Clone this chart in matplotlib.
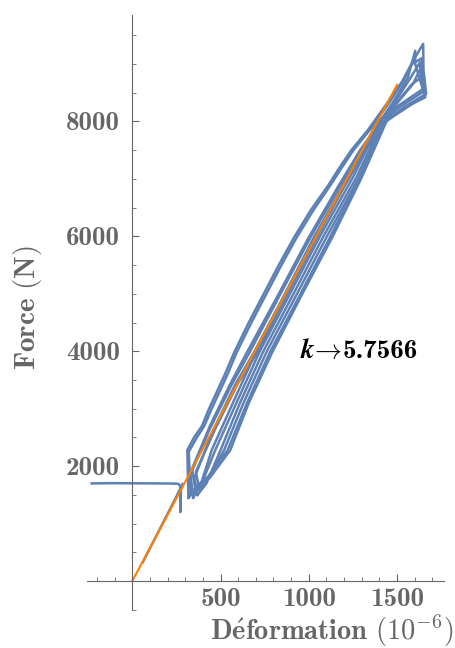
import matplotlib
matplotlib.use("Agg")
import matplotlib.pyplot as plt
from matplotlib.ticker import MultipleLocator

plt.rcParams['mathtext.fontset'] = 'cm'

# données (déformation en 1e-6, force en N)
preload_x = [-230, -120, 0, 120, 220, 262, 272, 272, 276]
preload_y = [1700, 1704, 1702, 1700, 1698, 1692, 1650, 1200, 1600]

ramp_x = [60, 120, 180, 240, 285]
ramp_y = [330, 690, 1050, 1410, 1690]

loops_x = [
    [318, 312, 350, 395, 435, 480, 525, 578, 660, 745, 830, 917, 1010, 1110, 1175, 1240, 1335, 1440,
     1530, 1590, 1648, 1650, 1665, 1540, 1440, 1300, 1133, 960, 793, 660, 555, 440, 380, 318],
    [330, 320, 362, 408, 450, 495, 540, 592, 675, 760, 845, 932, 1025, 1122, 1188, 1252, 1345, 1450,
     1535, 1585, 1640, 1642, 1660, 1530, 1425, 1290, 1120, 950, 780, 650, 540, 430, 375, 330],
    [360, 338, 440, 550, 650, 830, 1000, 1170, 1290, 1370, 1470, 1560, 1603, 1603, 1650,
     1520, 1400, 1250, 1060, 890, 720, 590, 470, 400, 360],
    [345, 330, 432, 560, 665, 840, 1010, 1180, 1300, 1380, 1480, 1575, 1630, 1632, 1645,
     1510, 1385, 1230, 1030, 865, 700, 570, 450, 390, 345],
    [370, 352, 455, 580, 690, 865, 1030, 1195, 1310, 1390, 1490, 1585, 1652, 1655,
     1535, 1410, 1270, 1080, 910, 740, 610, 500, 420, 370],
    [380, 360, 470, 600, 710, 880, 1045, 1205, 1320, 1400, 1495, 1590, 1638, 1640, 1662,
     1545, 1420, 1285, 1100, 930, 760, 630, 520, 430, 380],
]
loops_y = [
    [1450, 2280, 2500, 2700, 3000, 3300, 3600, 3983, 4500, 5000, 5500, 5983, 6450, 6886, 7200, 7496,
     7850, 8300, 8700, 9050, 9350, 8900, 8480, 8250, 8000, 7026, 5983, 4980, 3983, 3100, 2278, 1800,
     1650, 1450],
    [1520, 2250, 2480, 2700, 3000, 3300, 3600, 3983, 4500, 5000, 5500, 5983, 6450, 6886, 7200, 7496,
     7850, 8300, 8700, 9000, 9100, 8850, 8420, 8220, 7980, 7026, 5983, 4980, 3983, 3100, 2278, 1820,
     1680, 1520],
    [1550, 1950, 2700, 3400, 3983, 5000, 5983, 6886, 7496, 7850, 8300, 8750, 9230, 9000, 8520,
     8260, 7960, 7026, 5983, 4980, 3983, 3100, 2278, 1750, 1550],
    [1450, 1850, 2600, 3400, 3983, 5000, 5983, 6886, 7496, 7850, 8300, 8750, 9030, 8900, 8560,
     8280, 7980, 7026, 5983, 4980, 3983, 3100, 2278, 1700, 1450],
    [1500, 1800, 2600, 3400, 3983, 5000, 5983, 6886, 7496, 7850, 8300, 8650, 8800, 8450,
     8200, 7950, 7026, 5983, 4980, 3983, 3100, 2278, 1700, 1500],
    [1600, 1900, 2650, 3450, 3983, 5000, 5983, 6886, 7496, 7850, 8300, 8650, 8950, 8700, 8470,
     8230, 7990, 7026, 5983, 4980, 3983, 3100, 2278, 1780, 1600],
]

fit_x = [0, 1500]
fit_y = [0, 8635]
k_value = "5.7566"

xtick_vals = [500, 1000, 1500]
ytick_vals = [2000, 4000, 6000, 8000]

blue = '#5e81b5'
orange = '#ff7f00'
gray = '#666666'

fig = plt.figure(figsize=(4.56, 6.48), dpi=100)
ax = fig.add_axes([0.191, 0.0586, 0.783, 0.919])

ax.plot(preload_x, preload_y, color=blue, lw=1.8, solid_joinstyle='round')
ax.plot(ramp_x, ramp_y, color=blue, lw=1.8)
for lx, ly in zip(loops_x, loops_y):
    ax.plot(lx, ly, color=blue, lw=1.8, solid_joinstyle='round')
ax.plot(fit_x, fit_y, color=orange, lw=1.5)

ax.set_xlim(-256, 1767)
ax.set_ylim(-504, 9861)

for s in ['top', 'right']:
    ax.spines[s].set_visible(False)
ax.spines['left'].set_position(('data', 0))
ax.spines['bottom'].set_position(('data', 0))
for s in ['left', 'bottom']:
    ax.spines[s].set_color(gray)
    ax.spines[s].set_linewidth(0.8)

ax.set_xticks(xtick_vals)
ax.set_xticklabels([str(v) for v in xtick_vals], fontfamily='cmb10')
ax.set_yticks(ytick_vals)
ax.set_yticklabels([str(v) for v in ytick_vals], fontfamily='cmb10')
ax.xaxis.set_minor_locator(MultipleLocator(100))
ax.yaxis.set_minor_locator(MultipleLocator(500))
ax.tick_params(which='both', direction='in', color=gray, labelcolor=gray, labelsize=19.5)
ax.tick_params(which='major', length=5, width=0.8)
ax.tick_params(which='minor', length=3, width=0.6)
ax.tick_params(axis='y', pad=9)
ax.tick_params(axis='x', pad=5)

# étiquette k -> valeur
ax.text(950, 3878, r"$\boldsymbol{k}\!\rightarrow$", fontsize=19.5, va='baseline', ha='left',
        color='black')
ax.text(1190, 3878, k_value, fontfamily='cmb10', fontsize=19.5, va='baseline', ha='left',
        color='black')

fig.text(0.061, 0.525, r"$\mathbf{Force\ (N)}$", rotation=90, color=gray,
         fontsize=21, ha='center', va='center')
fig.text(0.995, 0.0125, r"$\mathbf{D\acute{e}formation}\ (10^{-6})$", color=gray,
         fontsize=20.5, ha='right', va='baseline')

fig.savefig('out.png', dpi=100)
